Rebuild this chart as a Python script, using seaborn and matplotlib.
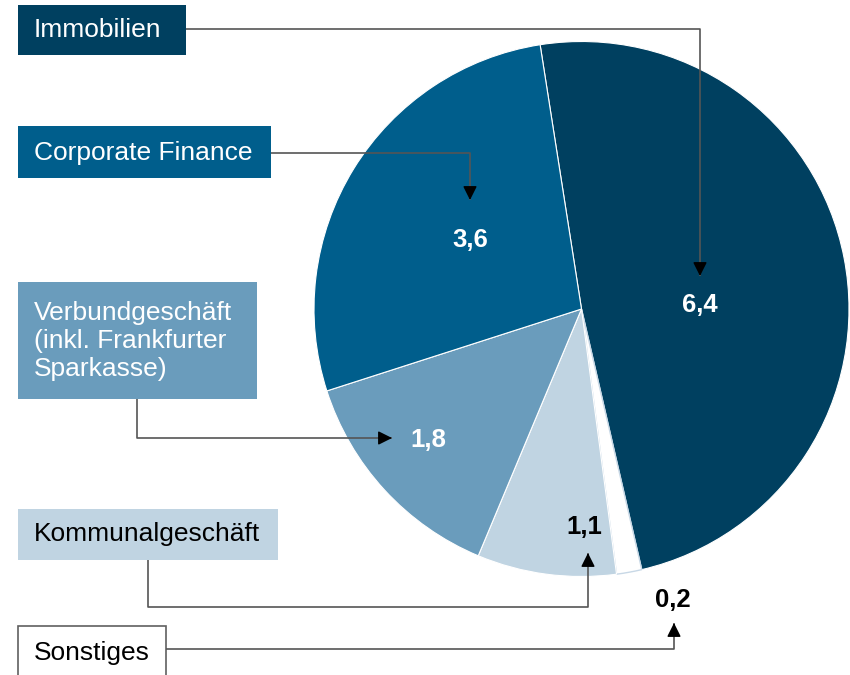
import matplotlib
matplotlib.use("Agg")
import matplotlib.pyplot as plt
import seaborn as sns
from matplotlib.patches import Rectangle

sns.set_theme(style="white")
plt.rcParams["font.family"] = ["Liberation Sans", "DejaVu Sans"]

# ---- data ----
categories = ["Immobilien", "Sonstiges", "Kommunalgeschäft",
              "Verbundgeschäft\n(inkl. Frankfurter\nSparkasse)", "Corporate Finance"]
values = [6.4, 0.2, 1.1, 1.8, 3.6]
value_labels = ["6,4", "0,2", "1,1", "1,8", "3,6"]
colors = ["#004060", "#ffffff", "#c0d4e2", "#6a9cbc", "#005e8c"]
box_text_colors = ["white", "black", "black", "white", "white"]
value_text_colors = ["white", "black", "black", "white", "white"]

W, H = 850, 675
def Y(py):
    return H - py

fig = plt.figure(figsize=(8.5, 6.75), dpi=100)
ax = fig.add_axes([0, 0, 1, 1])

wedges, _ = ax.pie(values, colors=colors, startangle=98.9, counterclock=False,
                   radius=267.5, center=(581.5, Y(309)),
                   wedgeprops=dict(edgecolor="white", linewidth=0.8))
wedges[1].set_edgecolor("#c8d8e6")
wedges[1].set_linewidth(1.0)
ax.set_xlim(0, W)
ax.set_ylim(0, H)
ax.set_aspect("equal")
ax.axis("off")

# label boxes (x0, y0, x1, y1 in px) and text anchor
boxes = {
    "Immobilien": (18, 5, 186, 55),
    "Sonstiges": (18, 626, 166, 690),
    "Kommunalgeschäft": (18, 509, 278, 560),
    "Verbundgeschäft\n(inkl. Frankfurter\nSparkasse)": (18, 282, 257, 399),
    "Corporate Finance": (18, 126, 271, 178),
}
text_centers = {
    "Immobilien": 30,
    "Sonstiges": 653,
    "Kommunalgeschäft": 534,
    "Verbundgeschäft\n(inkl. Frankfurter\nSparkasse)": 341,
    "Corporate Finance": 153,
}

for cat, col, tcol in zip(categories, colors, box_text_colors):
    x0, y0, x1, y1 = boxes[cat]
    ec = "#606060" if col == "#ffffff" else "none"
    ax.add_patch(Rectangle((x0, Y(y1)), x1 - x0, y1 - y0, facecolor=col,
                           edgecolor=ec, linewidth=1.2, zorder=3, clip_on=False))
    ax.text(34, Y(text_centers[cat]), cat, color=tcol, fontsize=19,
            va="center", ha="left", linespacing=1.2, zorder=4)

# value labels
value_pos = [(700, 305), (673, 600), (584, 527), (428, 440), (470, 240)]
for (px, py), lab, tc in zip(value_pos, value_labels, value_text_colors):
    ax.text(px, Y(py), lab, color=tc, fontsize=18.5, fontweight="bold",
            ha="center", va="center", zorder=5)

# connectors: polyline points (px), last point is arrow tip
lc = "#555555"
connectors = [
    [(186, 29), (700, 29), (700, 276)],
    [(271, 153), (470, 153), (470, 200)],
    [(137, 399), (137, 438), (392, 438)],
    [(148, 560), (148, 607), (588, 607), (588, 553)],
    [(166, 649), (674, 649), (674, 623)],
]
for pts in connectors:
    xs = [p[0] for p in pts]
    ys = [Y(p[1]) for p in pts]
    ax.plot(xs, ys, color=lc, lw=1.2, zorder=6, solid_capstyle="butt")
    dx = xs[-1] - xs[-2]
    dy = ys[-1] - ys[-2]
    n = (dx ** 2 + dy ** 2) ** 0.5
    sx = xs[-1] - dx / n * 12
    sy = ys[-1] - dy / n * 12
    ax.annotate("", xy=(xs[-1], ys[-1]), xytext=(sx, sy),
                arrowprops=dict(arrowstyle="-|>,head_length=0.7,head_width=0.35",
                                color="black", lw=1.0, shrinkA=0, shrinkB=0),
                zorder=7)

fig.savefig("out.png", dpi=100)
